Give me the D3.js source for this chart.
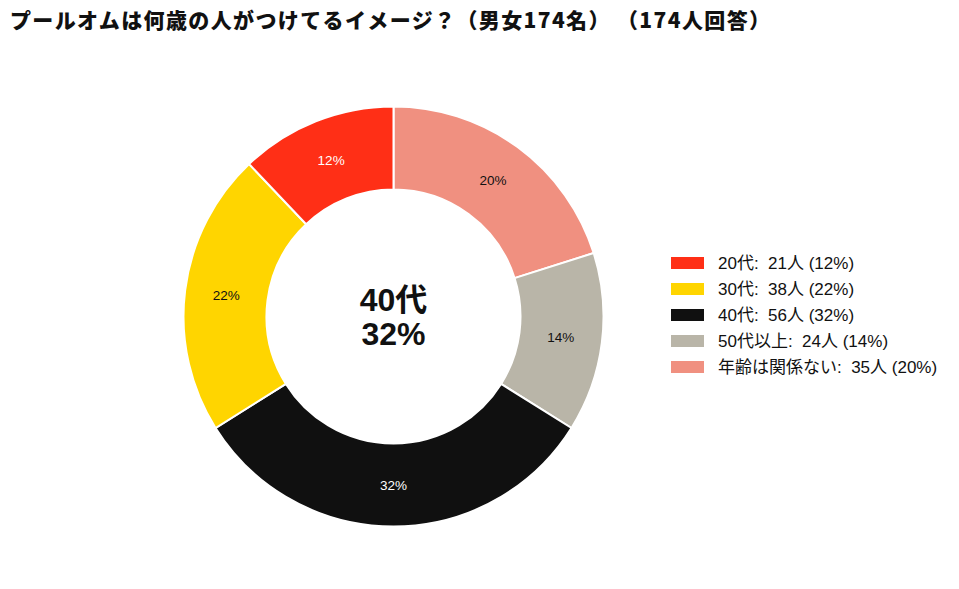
<!DOCTYPE html>
<html>
<head>
<meta charset="utf-8">
<script src="https://cdn.jsdelivr.net/npm/d3@7"></script>
<style>
  body { margin: 0; background: #fff; }
  text { font-family: "Liberation Sans", "Noto Sans CJK JP", sans-serif; white-space: pre; }
  text.title { font-family: "Noto Sans CJK JP", sans-serif; }
</style>
</head>
<body>
<div id="chart"></div>
<script>
// data
const categories = ["20代", "30代", "40代", "50代以上", "年齢は関係ない"];
const counts = [21, 38, 56, 24, 35];
const colors = ["#ff2f16", "#ffd500", "#101010", "#b9b5a8", "#f09080"];
const labelColors = ["#fff", "#111", "#fff", "#111", "#111"];

const width = 959;
const height = 589;
const cx = 393.5, cy = 316.5;
const outerR = 210, innerR = 127;

const total = d3.sum(counts);
const pct = v => Math.round(v / total * 100) + "%";

const svg = d3.select("#chart")
  .append("svg")
  .attr("width", width)
  .attr("height", height);

// title
svg.append("text")
  .attr("class", "title")
  .attr("x", 10)
  .attr("y", 28)
  .attr("font-size", 21)
  .attr("font-weight", 900)
  .attr("textLength", 760)
  .attr("lengthAdjust", "spacing")
  .attr("fill", "#111")
  .text("プールオムは何歳の人がつけてるイメージ？（男女174名） （174人回答）");

const items = categories.map((c, i) => ({ name: c, count: counts[i], color: colors[i], lc: labelColors[i] }));

// slices go clockwise from the top in reverse legend order
const pie = d3.pie()
  .sort(null)
  .value(d => d.count);

const arc = d3.arc().innerRadius(innerR).outerRadius(outerR);
const labelArc = d3.arc().innerRadius((innerR + outerR) / 2).outerRadius((innerR + outerR) / 2);

const g = svg.append("g").attr("transform", `translate(${cx},${cy})`);

const arcs = pie(items.slice().reverse());

g.selectAll("path")
  .data(arcs)
  .join("path")
  .attr("d", arc)
  .attr("fill", d => d.data.color)
  .attr("stroke", "#fff")
  .attr("stroke-width", 2);

g.selectAll("text.pct")
  .data(arcs)
  .join("text")
  .attr("class", "pct")
  .attr("transform", d => `translate(${labelArc.centroid(d)})`)
  .attr("text-anchor", "middle")
  .attr("dy", "0.35em")
  .attr("font-size", 13.5)
  .attr("fill", d => d.data.lc)
  .text(d => pct(d.data.count));

// center text (largest group)
const biggest = items.reduce((a, b) => b.count > a.count ? b : a);
g.append("text")
  .attr("text-anchor", "middle")
  .attr("y", -6)
  .attr("font-size", 32)
  .attr("font-weight", 700)
  .attr("fill", "#111")
  .text(biggest.name);
g.append("text")
  .attr("text-anchor", "middle")
  .attr("y", 28)
  .attr("font-size", 32)
  .attr("font-weight", 700)
  .attr("fill", "#111")
  .text(pct(biggest.count));

// legend
const legend = svg.append("g").attr("transform", "translate(671,263)");
const row = legend.selectAll("g")
  .data(items)
  .join("g")
  .attr("transform", (d, i) => `translate(0,${i * 26})`);

row.append("rect")
  .attr("x", 0)
  .attr("y", -6)
  .attr("width", 33)
  .attr("height", 12)
  .attr("fill", d => d.color);

row.append("text")
  .attr("x", 47)
  .attr("dy", "0.35em")
  .attr("font-size", 17)
  .attr("fill", "#111")
  .text(d => `${d.name}:  ${d.count}人 (${pct(d.count)})`);
</script>
</body>
</html>
